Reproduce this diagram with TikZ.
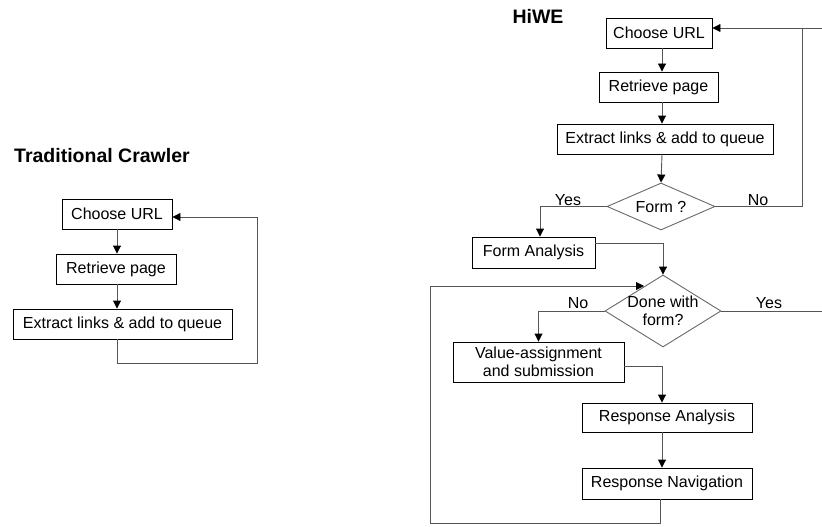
\documentclass[tikz,border=0pt]{standalone}
\usepackage{fontspec}
\setmainfont{Liberation Sans}
\usetikzlibrary{arrows.meta,shapes.geometric}

\definecolor{linegray}{RGB}{85,85,85}
\definecolor{diagray}{RGB}{105,105,105}

\tikzset{
  box/.style={draw=black, line width=0.9pt, inner sep=0pt, align=center,
    font=\fontsize{16}{18}\selectfont},
  decision/.style={diamond, draw=diagray, line width=0.9pt, inner sep=-4pt,
    align=center, font=\fontsize{16}{18}\selectfont},
  flow/.style={draw=linegray, line width=0.9pt},
  arr/.style={flow, -{Triangle[length=8pt,width=8pt,color=black]}},
  lbl/.style={inner sep=0pt, font=\fontsize{16}{18}\selectfont},
  heading/.style={inner sep=0pt, font=\fontsize{19.5}{22}\selectfont\bfseries},
}

\begin{document}
\begin{tikzpicture}[x=1pt,y=-1pt]
\useasboundingbox (0,0) rectangle (822,527);

% ---------- Traditional crawler ----------
\node[heading] (ttitle) at (102,156) {Traditional Crawler};
\node[box, minimum width=110pt, minimum height=30pt] (tc1) at (117,214) {Choose URL};
\node[box, minimum width=120pt, minimum height=30pt] (tc2) at (116,269) {Retrieve page};
\node[box, minimum width=219pt, minimum height=30pt] (tc3) at (122.5,324) {Extract links \& add to queue};
\coordinate (tloop) at (257,363);

\draw[arr] (tc1.south -| 117,0) -- (tc2.north -| 117,0);
\draw[arr] (tc2.south -| 117,0) -- (tc3.north -| 117,0);
\draw[arr] (tc3.south -| 117,0) |- (tloop) |- ([yshift=-3pt]tc1.east);

% ---------- HiWE ----------
\node[heading] (htitle) at (538,16) {HiWE};
\node[box, minimum width=106pt, minimum height=30pt] (h1) at (659,33) {Choose URL};
\node[box, minimum width=119pt, minimum height=30pt] (h2) at (658.5,87) {Retrieve page};
\node[box, minimum width=216pt, minimum height=30pt] (h3) at (665,139) {Extract links \& add to queue};
\node[decision, shape aspect=2.3, minimum width=108pt, minimum height=47pt] (d1) at (661,206.5) {Form ?};
\node[box, minimum width=123pt, minimum height=31pt] (h4) at (533.5,252.5) {Form Analysis};
\node[decision, shape aspect=1.6, minimum width=116pt, minimum height=72pt] (d2) at (663,311) {Done with\\form?};
\node[box, minimum width=171pt, minimum height=40pt] (h5) at (538.5,362) {Value-assignment\\and submission};
\node[box, minimum width=170pt, minimum height=29pt] (h6) at (667,417.5) {Response Analysis};
\node[box, minimum width=170pt, minimum height=31pt] (h7) at (667,483.5) {Response Navigation};

% free ends and bends
\coordinate (topright) at (822,28);
\coordinate (noturn) at (802,28);
\coordinate (yesend) at (822,311);
\coordinate (loopbl) at (430,523);
\coordinate (looptl) at (430,286);
\coordinate (loopin) at (644,286);

% main column
\draw[arr] (h1.south -| 662,0) -- (h2.north -| 662,0);
\draw[arr] (h2.south -| 662,0) -- (h3.north -| 662,0);
\draw[arr] (h3.south -| 662,0) -- (d1.north);

% Form ? branches
\draw[arr] (d1.west) -| (540,0 |- h4.north);
\node[lbl] (yes1) at (568,200) {Yes};
\draw[flow] (d1.east) -| (noturn);
\draw[arr] (topright) -- (h1.east |- topright);
\node[lbl] (no1) at (758,200) {No};

% Form analysis into the form loop
\draw[arr] ([yshift=9.5pt]h4.east) -| (d2.north);

% Done with form? branches
\draw[arr] (d2.west) -| (538.5,0 |- h5.north);
\node[lbl] (no2) at (578,303) {No};
\draw[flow] (d2.east) -- (yesend);
\node[lbl] (yes2) at (769,303) {Yes};

% submission, analysis, navigation
\draw[arr] ([yshift=-4pt]h5.east) -| (662,0 |- h6.north);
\draw[arr] (h6.south -| 662,0) -- (h7.north -| 662,0);

% back to the decision
\draw[arr] (h7.south -| 660,0) |- (loopbl) -- (looptl) -- (loopin);
\end{tikzpicture}
\end{document}
